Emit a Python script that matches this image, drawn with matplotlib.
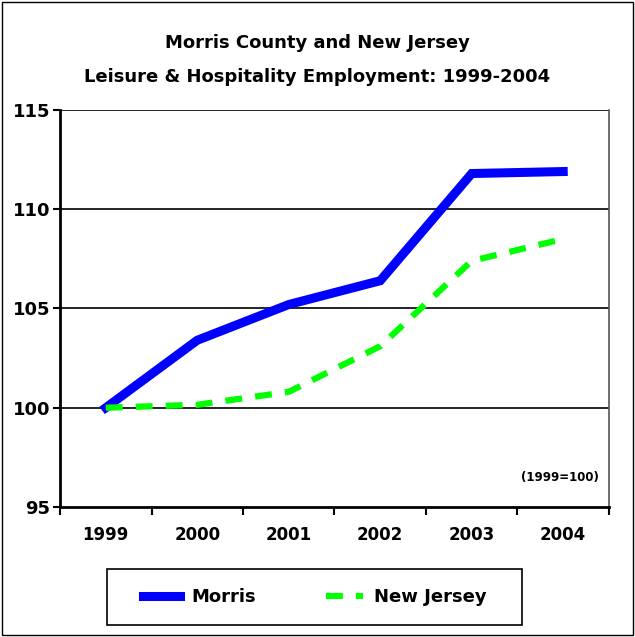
import numpy as np
from matplotlib import pyplot as plt
from matplotlib.patches import Rectangle

years = ["1999", "2000", "2001", "2002", "2003", "2004"]
morris = [100.0, 103.4, 105.2, 106.4, 111.8, 111.9]
new_jersey = [100.0, 100.15, 100.8, 103.1, 107.4, 108.5]
y_ticks = [95, 100, 105, 110, 115]

plt.rcParams['font.family'] = ['DejaVu Sans']
plt.rcParams['font.weight'] = 'bold'

fig = plt.figure(figsize=(6.35, 6.37), dpi=100)
fig.patches.append(Rectangle((0.003, 0.003), 0.994, 0.994, transform=fig.transFigure,
                             fill=False, edgecolor='black', linewidth=1))

ax = fig.add_axes([0.0945, 0.2041, 0.8645, 0.6232])
x = np.arange(len(years))
ax.plot(x, morris, color='#0000ff', linewidth=6.5, label='Morris', solid_joinstyle='miter')
ax.plot(x, new_jersey, color='#00ff00', linewidth=4.5, dashes=(2.7, 2.1), label='New Jersey')

ax.set_xlim(-0.5, len(years) - 0.5)
ax.set_ylim(95, 115)
ax.set_yticks(y_ticks)
ax.set_yticklabels([str(t) for t in y_ticks], fontsize=13, fontweight='bold')
ax.set_xticks(x)
ax.set_xticklabels(years, fontsize=12, fontweight='bold')
ax.set_xticks(np.arange(len(years) + 1) - 0.5, minor=True)
ax.tick_params(axis='x', which='major', length=0, pad=14)
ax.tick_params(axis='x', which='minor', length=6, width=1.5, direction='out')
ax.tick_params(axis='y', length=5, width=1.5, pad=2)

for t in y_ticks[1:]:
    ax.axhline(t, color='black', linewidth=1.2, zorder=0)

ax.spines['left'].set_linewidth(2)
ax.spines['bottom'].set_linewidth(2)
ax.spines['top'].set_visible(False)
ax.spines['right'].set_color('#555555')
ax.spines['right'].set_linewidth(1.2)

ax.text(0.982, 0.075, "(1999=100)", transform=ax.transAxes, ha='right', va='center',
        fontsize=8.5, fontweight='bold')

fig.text(0.5, 0.932, "Morris County and New Jersey", ha='center', va='center',
         fontsize=13, fontweight='bold')
fig.text(0.5, 0.879, "Leisure & Hospitality Employment: 1999-2004", ha='center', va='center',
         fontsize=13, fontweight='bold')

# legend frame drawn separately so the padding can differ horizontally and vertically
fig.patches.append(Rectangle((107 / 635, 1 - 625 / 637), 415 / 635, 56 / 637,
                             transform=fig.transFigure, fill=False,
                             edgecolor='black', linewidth=1.2))
leg = fig.legend(loc='center', bbox_to_anchor=(0.496, 0.0628), ncol=2, frameon=False,
                 fontsize=13, handlelength=2.05, columnspacing=3.9,
                 borderpad=0.5, handletextpad=0.6)

fig.savefig("out.png", dpi=100)
